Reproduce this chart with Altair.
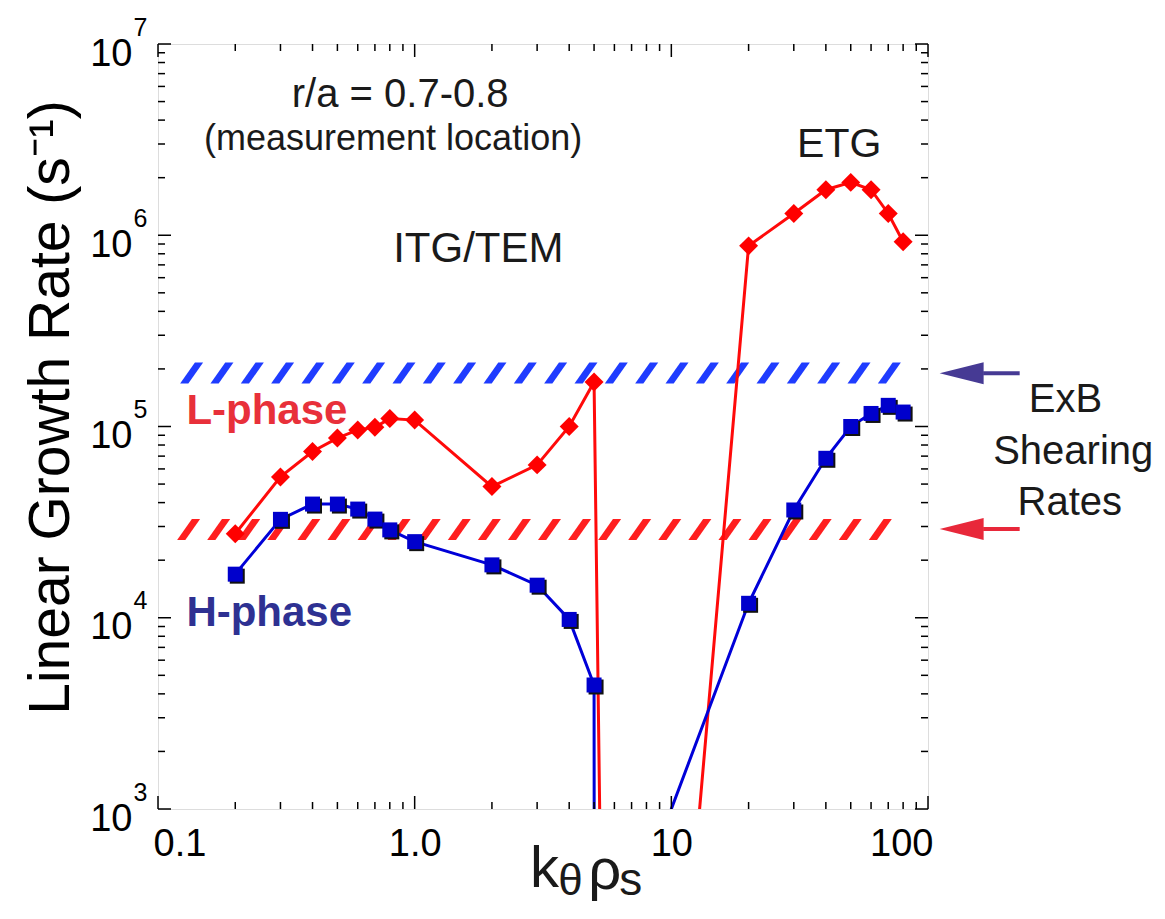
import altair as alt
import numpy as np
import pandas as pd

FONT = "Liberation Sans"

# ---------------- data ----------------
# L-phase growth rates (red diamonds); the points below 1e3 only carry the line off-scale
k_L = [0.2, 0.3, 0.4, 0.5, 0.6, 0.7, 0.8, 1.0, 2.0, 3.0, 4.0, 5.0, 5.5,
       10.0, 20.0, 30.0, 40.0, 50.0, 60.0, 70.0, 80.0]
g_L = [2.75e4, 5.45e4, 7.4e4, 8.7e4, 9.6e4, 9.9e4, 1.1e5, 1.08e5, 4.85e4,
       6.3e4, 1.0e5, 1.71e5, 10, 20, 8.8e5, 1.3e6, 1.73e6, 1.89e6, 1.73e6,
       1.3e6, 9.25e5]

# H-phase growth rates (blue squares)
k_H = [0.2, 0.3, 0.4, 0.5, 0.6, 0.7, 0.8, 1.0, 2.0, 3.0, 4.0, 5.0, 5.02,
       10.0, 20.0, 30.0, 40.0, 50.0, 60.0, 70.0, 80.0]
g_H = [1.69e4, 3.27e4, 3.93e4, 3.93e4, 3.7e4, 3.28e4, 2.88e4, 2.5e4, 1.89e4,
       1.48e4, 9.8e3, 4.45e3, 10, 1000, 1.19e4, 3.66e4, 6.82e4, 1.0e5,
       1.17e5, 1.29e5, 1.19e5]

# ExB shearing-rate bands (hatched): [H-phase (blue), L-phase (red)]
band_lo = [1.67e5, 2.55e4]
band_hi = [2.17e5, 3.28e4]
band_k_first = [0.1352, 0.1316]
band_k_last = [70.7, 65.2]
band_strokes = [24, 24]
band_color = ["#1f3cff", "#ff1f1f"]

# arrows pointing at the bands (outside the frame)
arrow_gamma = [1.9e5, 2.91e4]
arrow_color = ["#463a94", "#e8283a"]
arrow_head_k = [135.2, 135.2]
arrow_shaft_k0 = [164.0, 164.0]
arrow_shaft_k1 = [227.6, 227.6]

# axis ticks / labels
x_label_vals = [0.1, 1.0, 10.0, 100.0]
y_label_vals = [1e3, 1e4, 1e5, 1e6, 1e7]
x_minor = [m * 10.0 ** e for e in (-1, 0, 1) for m in range(2, 10)]
y_minor = [m * 10.0 ** e for e in (3, 4, 5, 6) for m in range(2, 10)]

# annotations (positions in data units, baseline anchored)
note_text = ["r/a = 0.7-0.8", "(measurement location)", "ITG/TEM", "ETG"]
note_k = [0.878, 0.824, 1.77, 45.1]
note_g = [4.68e6, 2.79e6, 7.24e5, 2.56e6]
note_size = [40, 36, 42, 41]

phase_text = ["L-phase", "H-phase"]
phase_k = [0.129, 0.129]
phase_g = [1.03e5, 9.06e3]
phase_color = ["#e8303a", "#2e3192"]

exb_text = ["ExB", "Shearing", "Rates"]
exb_k = [343.0, 368.0, 357.0]
exb_g = [1.19e5, 6.37e4, 3.44e4]

xt_text = ["k", "\u03b8", "\u03c1", "s"]
xt_k = [3.205, 4.05, 5.50, 6.95]
xt_g = [391.0, 355.0, 381.6, 355.0]
xt_size = [58, 44, 58, 46]

# ---------------- chart ----------------
W, H = 770, 765
xs = alt.Scale(type="log", domain=[0.1, 100])
ys = alt.Scale(type="log", domain=[1e3, 1e7])


def X(field="k", axis=None):
    return alt.X(f"{field}:Q", scale=xs, axis=axis)


def Y(field="g", axis=None):
    return alt.Y(f"{field}:Q", scale=ys, axis=axis)


axis_x = alt.Axis(
    orient="bottom", values=x_label_vals,
    labelExpr="datum.value == 1 ? '1.0' : datum.value < 0.5 ? '0.1' : format(datum.value, 'd')",
    ticks=False, tickSize=0, domain=False, grid=False, title=None,
    labelFont=FONT, labelFontSize=38, labelColor="black",
    labelBaseline="alphabetic", labelPadding=46,
    labelFlush=True, labelFlushOffset=5, labelOverlap=False)

axis_y_main = alt.Axis(
    orient="left", values=y_label_vals, labelExpr="'10'",
    ticks=False, tickSize=0, domain=False, grid=False,
    labelFont=FONT, labelFontSize=38, labelColor="black",
    labelAlign="right", labelBaseline="alphabetic", labelPadding=26,
    labelOffset=21, labelOverlap=False,
    title="Linear Growth Rate (s\u207b\u00b9)", titleFont=FONT,
    titleFontSize=57, titleFontWeight="normal", titleColor="black",
    titleAngle=270, titleAlign="center", titleBaseline="alphabetic",
    titleX=-90, titleY=363)

axis_y_exp = alt.Axis(
    orient="left", values=y_label_vals,
    labelExpr="round(log(datum.value) / LN10)",
    ticks=False, tickSize=0, domain=False, grid=False, title=None,
    labelFont=FONT, labelFontSize=25, labelColor="black",
    labelAlign="right", labelBaseline="alphabetic", labelPadding=11,
    labelOffset=-9, labelOverlap=False)

layers = []

# hatched bands
HATCH = "M-1.095,1L-0.314,1L1.095,-1L0.314,-1Z"
for i in range(2):
    ks = np.geomspace(band_k_first[i], band_k_last[i], band_strokes[i])
    df = pd.DataFrame({"k": ks, "g": np.sqrt(band_lo[i] * band_hi[i])})
    layers.append(
        alt.Chart(df).mark_point(shape=HATCH, size=441, filled=True,
                                 color=band_color[i], opacity=1, strokeWidth=0)
        .encode(x=X(), y=Y()))

# arrows
dfa = pd.DataFrame({"k0": arrow_shaft_k0, "k1": arrow_shaft_k1,
                    "kh": arrow_head_k, "g": arrow_gamma, "c": arrow_color})
layers.append(
    alt.Chart(dfa).mark_rule(strokeWidth=4).encode(
        x=X("k0"), x2="k1:Q", y=Y(), color=alt.Color("c:N", scale=None)))
layers.append(
    alt.Chart(dfa).mark_point(shape="M-1,0L1,-0.5L1,0.5Z", size=1936,
                              filled=True, opacity=1, strokeWidth=0).encode(
        x=X("kh"), y=Y(), color=alt.Color("c:N", scale=None)))

# data series
dfL = pd.DataFrame({"k": k_L, "g": g_L, "i": range(len(k_L))})
dfH = pd.DataFrame({"k": k_H, "g": g_H, "i": range(len(k_H))})

layers.append(
    alt.Chart(dfL).mark_line(color="#ff0a0a", strokeWidth=3, clip=True)
    .encode(x=X(axis=axis_x), y=Y(axis=axis_y_main), order="i:Q"))
layers.append(
    alt.Chart(dfH).mark_line(color="#0000d8", strokeWidth=3, clip=True)
    .encode(x=X(), y=Y(axis=axis_y_exp), order="i:Q"))

layers.append(
    alt.Chart(dfL).transform_filter("datum.g > 1000")
    .mark_point(shape="diamond", size=360, filled=True, color="#ff0000",
                opacity=1, strokeWidth=0, clip=True)
    .encode(x=X(), y=Y()))
layers.append(
    alt.Chart(dfH).transform_filter("datum.g > 1000")
    .mark_point(shape="square", size=225, filled=True, color="#111111",
                opacity=1, strokeWidth=0, xOffset=2, yOffset=2, clip=True)
    .encode(x=X(), y=Y()))
layers.append(
    alt.Chart(dfH).transform_filter("datum.g > 1000")
    .mark_point(shape="square", size=225, filled=True, color="#0000cc",
                opacity=1, strokeWidth=0, clip=True)
    .encode(x=X(), y=Y()))


# inward frame ticks
def tick_layers(vals, length):
    d = pd.DataFrame({"v": vals})
    return [
        alt.Chart(d).mark_rule(color="black", strokeWidth=1.5).encode(
            x=X("v"), y=alt.value(H), y2=alt.value(H - length)),
        alt.Chart(d).mark_rule(color="black", strokeWidth=1.5).encode(
            x=X("v"), y=alt.value(0), y2=alt.value(length)),
    ]


def ytick_layers(vals, length):
    d = pd.DataFrame({"v": vals})
    return [
        alt.Chart(d).mark_rule(color="black", strokeWidth=1.5).encode(
            y=Y("v"), x=alt.value(0), x2=alt.value(length)),
        alt.Chart(d).mark_rule(color="black", strokeWidth=1.5).encode(
            y=Y("v"), x=alt.value(W - length), x2=alt.value(W)),
    ]


layers += tick_layers(x_minor, 7) + tick_layers(x_label_vals, 13)
layers += ytick_layers(y_minor, 7) + ytick_layers(y_label_vals, 13)

# text annotations
for t, k, g, s in zip(note_text, note_k, note_g, note_size):
    layers.append(
        alt.Chart(pd.DataFrame({"k": [k], "g": [g], "t": [t]}))
        .mark_text(font=FONT, fontSize=s, color="#1a1a1a", align="center",
                   baseline="alphabetic")
        .encode(x=X(), y=Y(), text="t:N"))

for t, k, g, c in zip(phase_text, phase_k, phase_g, phase_color):
    layers.append(
        alt.Chart(pd.DataFrame({"k": [k], "g": [g], "t": [t]}))
        .mark_text(font=FONT, fontSize=42, fontWeight="bold", color=c,
                   align="left", baseline="alphabetic")
        .encode(x=X(), y=Y(), text="t:N"))

layers.append(
    alt.Chart(pd.DataFrame({"k": exb_k, "g": exb_g, "t": exb_text}))
    .mark_text(font=FONT, fontSize=40, color="#1a1a1a", align="center",
               baseline="alphabetic")
    .encode(x=X(), y=Y(), text="t:N"))

for t, k, g, s in zip(xt_text, xt_k, xt_g, xt_size):
    layers.append(
        alt.Chart(pd.DataFrame({"k": [k], "g": [g], "t": [t]}))
        .mark_text(font=FONT, fontSize=s, color="#1a1a1a", align="center",
                   baseline="alphabetic")
        .encode(x=X(), y=Y(), text="t:N"))

chart = (
    alt.layer(*layers)
    .resolve_axis(x="independent", y="independent")
    .properties(width=W, height=H,
                padding={"left": 150, "top": 36, "right": 228, "bottom": 96},
                autosize=alt.AutoSizeParams(type="none"))
    .configure_view(stroke="#231f20", strokeWidth=2)
    .configure(background="white")
)

chart.save("out.html", embed_options={"renderer": "svg", "actions": False})
